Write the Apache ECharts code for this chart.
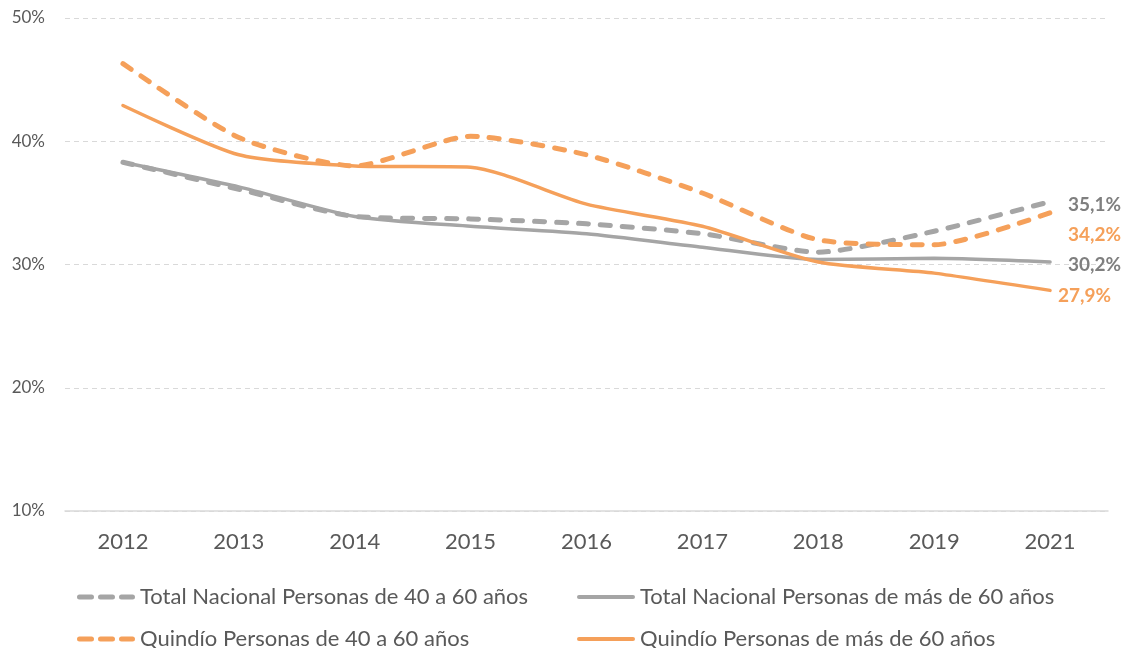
<!DOCTYPE html>
<html>
<head>
<meta charset="utf-8">
<script src="https://cdn.jsdelivr.net/npm/echarts@6/dist/echarts.min.js"></script>
<style>html,body{margin:0;padding:0;background:#fff}#c{width:1129px;height:648px}</style>
</head>
<body>
<div id="c"></div>
<script>
const categories = ['2012','2013','2014','2015','2016','2017','2018','2019','2021'];
const totalNac40a60 = [38.3, 36.1, 33.9, 33.7, 33.3, 32.5, 31.0, 32.7, 35.1];
const totalNacMas60 = [38.3, 36.3, 33.9, 33.1, 32.5, 31.4, 30.4, 30.5, 30.2];
const quindio40a60 = [46.3, 40.3, 38.0, 40.4, 38.9, 35.8, 32.0, 31.6, 34.2];
const quindioMas60 = [42.9, 38.9, 38.0, 37.9, 34.9, 33.1, 30.2, 29.3, 27.9];
const seriesNames = [
  'Total Nacional Personas de 40 a 60 años',
  'Total Nacional Personas de más de 60 años',
  'Quindío Personas de 40 a 60 años',
  'Quindío Personas de más de 60 años'
];

const GRAY = '#A5A5A5', ORANGE = '#F5A05A';
const FONT = 'Lato';
const fmt = v => v.toFixed(1).replace('.', ',') + '%';
const DASH_ICON = 'path://M2.5,0 H14.5 A2.5,2.5 0 0 1 14.5,5 H2.5 A2.5,2.5 0 0 1 2.5,0 Z M23.5,0 H35.5 A2.5,2.5 0 0 1 35.5,5 H23.5 A2.5,2.5 0 0 1 23.5,0 Z M44.5,0 H55.5 A2.5,2.5 0 0 1 55.5,5 H44.5 A2.5,2.5 0 0 1 44.5,0 Z';
const SOLID_ICON = 'path://M2,0 H56 A2,2 0 0 1 56,4 H2 A2,2 0 0 1 2,0 Z';

function mk(name, data, color, dashed, labelColor, offset) {
  return {
    name: name, type: 'line', data: data, smooth: 0.22, symbol: 'none',
    lineStyle: { color: color, width: dashed ? 5 : 3.5, type: dashed ? [10, 12] : 'solid', cap: 'round' },
    itemStyle: { color: color },
    endLabel: {
      show: true, formatter: p => fmt(p.value), color: labelColor,
      fontFamily: FONT, fontWeight: 'bold', fontSize: 19, distance: 0, offset: offset
    },
    emphasis: { disabled: true }
  };
}

function lg(name, icon, dashed, left, top) {
  return {
    data: [{ name: name, icon: icon }], left: left, top: top, itemWidth: 58, itemHeight: dashed ? 5 : 4, itemGap: 6,
    textStyle: { color: '#595959', fontSize: 22, fontFamily: FONT, padding: [0, 0, 0, 0] }
  };
}

const chart = echarts.init(document.getElementById('c'), null, { renderer: 'canvas' });
chart.setOption({
  animation: false,
  textStyle: { fontFamily: FONT },
  grid: { left: 65, right: 21, top: 18, bottom: 137 },
  legend: [
    lg(seriesNames[0], DASH_ICON, true, 72, 581),
    lg(seriesNames[1], SOLID_ICON, false, 572, 581),
    lg(seriesNames[2], DASH_ICON, true, 72, 623),
    lg(seriesNames[3], SOLID_ICON, false, 572, 623)
  ],
  xAxis: {
    type: 'category', data: categories, boundaryGap: true,
    axisLine: { lineStyle: { color: '#D9D9D9', width: 1.5 } },
    axisTick: { show: false },
    axisLabel: { color: '#595959', fontSize: 22, margin: 20, fontFamily: FONT }
  },
  yAxis: {
    type: 'value', min: 10, max: 50, interval: 10,
    axisLine: { show: false }, axisTick: { show: false },
    axisLabel: { formatter: '{value}%', color: '#595959', fontSize: 17, margin: 20, fontFamily: FONT },
    splitLine: { lineStyle: { color: '#D9D9D9', type: [5, 4], width: 1.2 } }
  },
  series: [
    mk(seriesNames[0], totalNac40a60, GRAY, true, '#7F7F7F', [18, 3]),
    mk(seriesNames[1], totalNacMas60, GRAY, false, '#7F7F7F', [18, 3]),
    mk(seriesNames[2], quindio40a60, ORANGE, true, ORANGE, [18, 22]),
    mk(seriesNames[3], quindioMas60, ORANGE, false, ORANGE, [8, 5])
  ]
});
</script>
</body>
</html>
